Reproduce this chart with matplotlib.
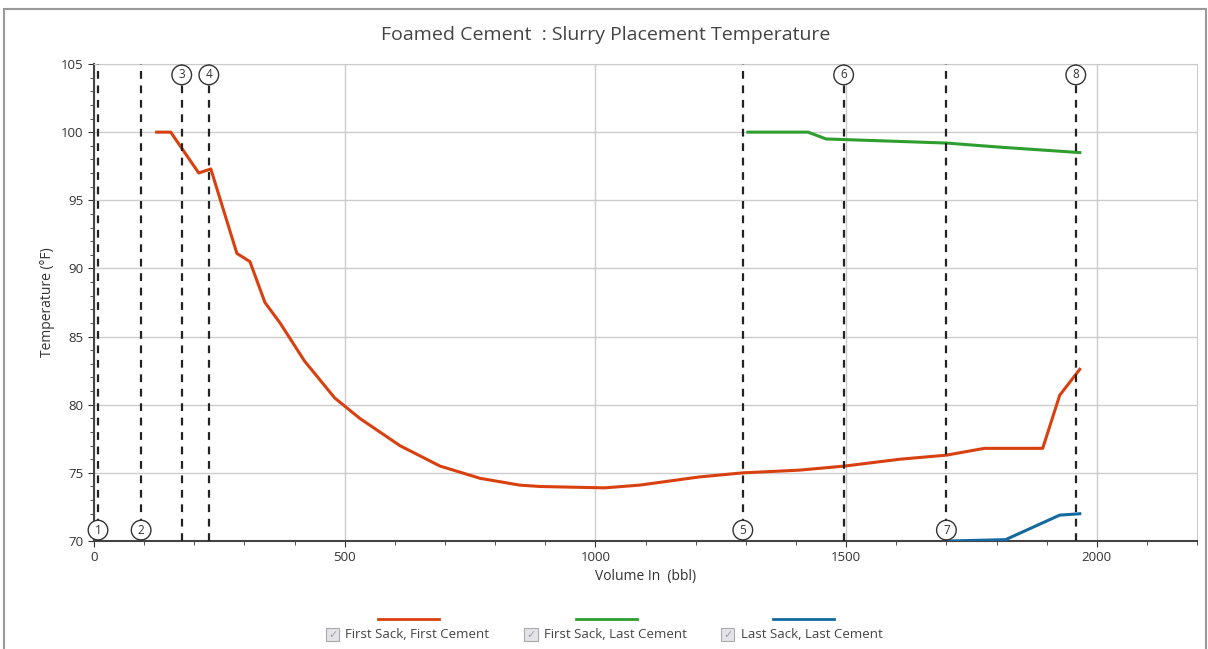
import matplotlib.pyplot as plt
from matplotlib.lines import Line2D
from matplotlib.patches import Rectangle

plt.rcParams['font.family'] = ['Open Sans', 'DejaVu Sans']

# first sack, first cement
ff_x = [125, 153, 209, 233, 285, 311, 341, 371, 420, 480, 530, 610, 690, 770, 849, 889,
        1018, 1088, 1207, 1294, 1407, 1497, 1607, 1700, 1776, 1892, 1926, 1966]
ff_y = [100, 100, 97.0, 97.3, 91.1, 90.5, 87.5, 86.0, 83.2, 80.5, 79.0, 77.0, 75.5, 74.6, 74.1, 74.0,
        73.9, 74.1, 74.7, 75.0, 75.2, 75.5, 76.0, 76.3, 76.8, 76.8, 80.7, 82.6]
# first sack, last cement
fl_x = [1304, 1424, 1460, 1700, 1806, 1966]
fl_y = [100, 100, 99.5, 99.2, 98.9, 98.5]
# last sack, last cement
ll_x = [1706, 1818, 1926, 1966]
ll_y = [70, 70.1, 71.9, 72.0]

event_x = [8, 94, 175, 229, 1294, 1495, 1700, 1958]
event_lbl = ['1', '2', '3', '4', '5', '6', '7', '8']
event_top = [False, False, True, True, False, True, False, True]

fig = plt.figure(figsize=(12.08, 6.49), dpi=100)
ax = fig.add_axes([0.0778, 0.1664, 0.9132, 0.735])

ax.plot(ff_x, ff_y, color='#d9400f', lw=2.2, zorder=3)
ax.plot(fl_x, fl_y, color='#2e9e2e', lw=2.2, zorder=3)
ax.plot(ll_x, ll_y, color='#146aa0', lw=2.2, zorder=3)

for x, lbl, top in zip(event_x, event_lbl, event_top):
    ax.axvline(x, color='#222222', lw=1.6, ls=(0, (3.5, 3)), zorder=4)
    y = 104.2 if top else 70.8
    ax.text(x, y, lbl, ha='center', va='center', fontsize=8.5, color='#333333', zorder=5,
            bbox=dict(boxstyle='circle,pad=0.28', fc='white', ec='#333333', lw=1))

ax.set_xlim(0, 2200)
ax.set_ylim(70, 105)
ax.set_xticks([0, 500, 1000, 1500, 2000])
ax.set_xticks(range(0, 2201, 100), minor=True)
ax.set_yticks(range(70, 106, 5))
ax.set_yticks(range(70, 106, 1), minor=True)
ax.grid(True, which='major', color='#cccccc', lw=1)
ax.set_axisbelow(True)
ax.tick_params(labelsize=9.5, colors='#333333', direction='out', length=4)
ax.tick_params(which='minor', length=3, colors='#333333')
for s in ['left', 'bottom']:
    ax.spines[s].set_color('#444444')
    ax.spines[s].set_linewidth(1.5)
for s in ['right', 'top']:
    ax.spines[s].set_color('#cccccc')

ax.set_xlabel('Volume In  (bbl)', fontsize=10, color='#333333', labelpad=3)
ax.set_ylabel('Temperature (°F)', fontsize=10, color='#333333', labelpad=4)
fig.text(0.501, 0.946, 'Foamed Cement  : Slurry Placement Temperature', ha='center', va='center',
         fontsize=14, color='#444444')

# custom legend: line above a checkbox + label
leg_names = ['First Sack, First Cement', 'First Sack, Last Cement', 'Last Sack, Last Cement']
leg_colors = ['#d9400f', '#2e9e2e', '#146aa0']
leg_x = [0.270, 0.434, 0.597]
for lx, name, c in zip(leg_x, leg_names, leg_colors):
    fig.add_artist(Line2D([lx + 0.043, lx + 0.093], [0.046, 0.046], color=c, lw=2))
    fig.add_artist(Rectangle((lx, 0.012), 0.011, 0.02, transform=fig.transFigure,
                             fc='#e4e4e8', ec='#aaaaaa', lw=0.8))
    fig.text(lx + 0.0055, 0.022, '✓', ha='center', va='center', fontsize=8,
             color='#9aa0b0', family=['DejaVu Sans'])
    fig.text(lx + 0.016, 0.022, name, ha='left', va='center', fontsize=9.5, color='#444444')

# outer frame
fig.add_artist(Rectangle((0.003, -0.01), 0.995, 0.996, transform=fig.transFigure,
                         fill=False, ec='#999999', lw=1.5))

plt.savefig('out.png', dpi=100)
